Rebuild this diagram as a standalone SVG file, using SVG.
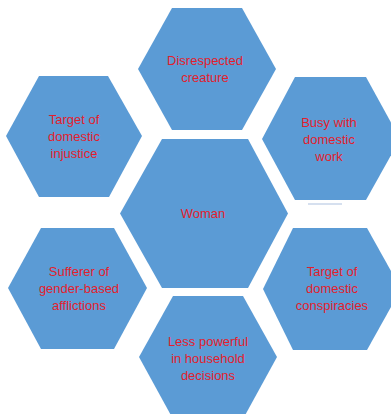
<svg xmlns="http://www.w3.org/2000/svg" width="391" height="414" viewBox="0 0 391 414">
<style>
.hex{fill:#5b9bd5;stroke:none}
.lbl{font-family:"Liberation Sans",Arial,sans-serif;font-size:13px;fill:#e31e2d;text-anchor:middle}
</style>
<rect width="391" height="414" fill="#ffffff"/>
<g id="connectors">
<line x1="308" y1="204" x2="342" y2="204" stroke="#c8d6ea" stroke-width="1.5"/>
</g>
<g id="node-disrespected">
<polygon class="hex" points="138,69 172,8 242,8 276,69 242,130 172,130"/>
<text class="lbl" x="205" y="65">Disrespected</text>
<text class="lbl" x="205" y="82">creature</text>
</g>
<g id="node-injustice">
<polygon class="hex" points="6,136 39,76 108,76 142,136 109,197 39,197"/>
<text class="lbl" x="74" y="124">Target of</text>
<text class="lbl" x="74" y="141">domestic</text>
<text class="lbl" x="74" y="158">injustice</text>
</g>
<g id="node-busy">
<polygon class="hex" points="262,139 295,77 366,77 400,139 366,200 295,200"/>
<text class="lbl" x="329" y="127">Busy with</text>
<text class="lbl" x="329" y="144">domestic</text>
<text class="lbl" x="329" y="161">work</text>
</g>
<g id="node-woman">
<polygon class="hex" points="120,213.5 162,139 248,139 288,213.5 248,288 162,288"/>
<text class="lbl" x="203" y="218">Woman</text>
</g>
<g id="node-sufferer">
<polygon class="hex" points="8,288 41,228 114,228 147,288 114,349 41,349"/>
<text class="lbl" x="79" y="276">Sufferer of</text>
<text class="lbl" x="79" y="293">gender-based</text>
<text class="lbl" x="79" y="310">afflictions</text>
</g>
<g id="node-conspiracies">
<polygon class="hex" points="263,289 293,228 367,228 401,289 367,350 293,350"/>
<text class="lbl" x="332" y="276">Target of</text>
<text class="lbl" x="332" y="293">domestic</text>
<text class="lbl" x="332" y="310">conspiracies</text>
</g>
<g id="node-lesspowerful">
<polygon class="hex" points="139,357 173,296 243,296 277,357 243,419 173,419"/>
<text class="lbl" x="208" y="346">Less powerful</text>
<text class="lbl" x="208" y="363">in household</text>
<text class="lbl" x="208" y="380">decisions</text>
</g>
</svg>
